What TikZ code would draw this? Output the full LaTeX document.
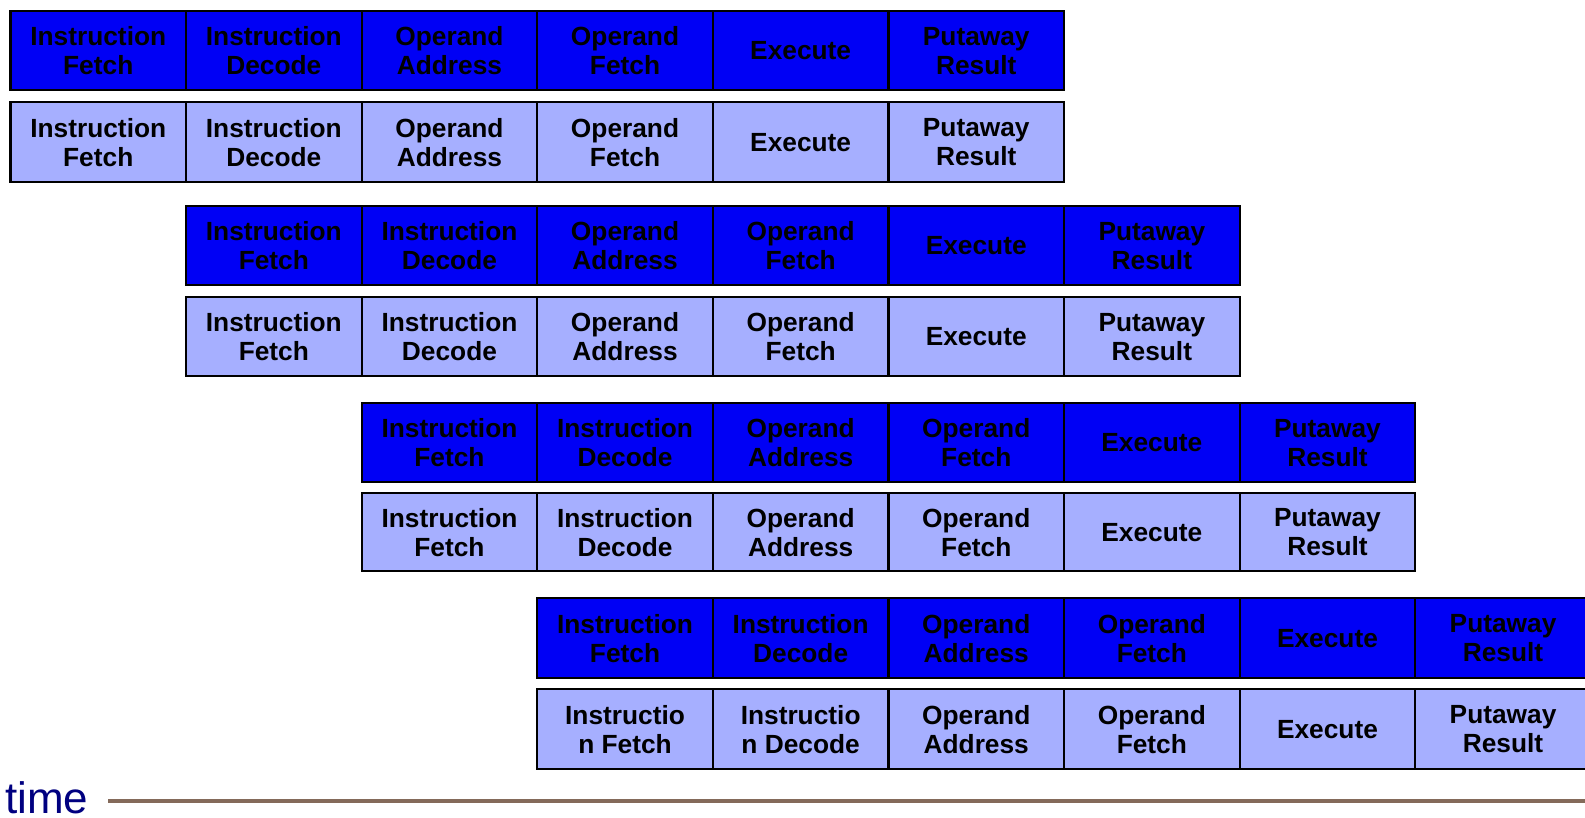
\documentclass[tikz,border=0pt]{standalone}
\usepackage{fontspec}
\setmainfont{Liberation Sans}
\definecolor{darkcell}{RGB}{0,0,245}
\definecolor{lightcell}{RGB}{166,175,255}
\definecolor{timenavy}{RGB}{0,0,128}
\definecolor{timeline}{RGB}{132,106,90}
\begin{document}
\begin{tikzpicture}[x=1pt,y=-1pt,
  cell/.style={draw=black, line width=2.3pt, minimum width=175.6pt,
    inner sep=0pt, align=center, anchor=north west, text=black,
    font=\fontsize{26.3}{29}\selectfont\bfseries}]
\useasboundingbox (0,0) rectangle (1585,817);
\clip (0,0) rectangle (1585,817);
\foreach \r/\x/\y/\h/\s in {1/9.3/10/79/darkcell, 2/9.3/101/80/lightcell, 3/184.9/205/79/darkcell, 4/184.9/296/79/lightcell,
  5/360.5/402/79/darkcell, 6/360.5/492/78/lightcell, 7/536.1/597/80/darkcell}{
  \foreach \lab [count=\c] in {{Instruction\\Fetch},{Instruction\\Decode},{Operand\\Address},{Operand\\Fetch},{Execute},{Putaway\\Result}}{
    \node[cell, fill=\s, minimum height=\h pt] (r\r c\c) at ({\x+(\c-1)*175.6},\y) {\lab};
  }
}
\foreach \lab [count=\c] in {{Instructio\\n Fetch},{Instructio\\n Decode},{Operand\\Address},{Operand\\Fetch},{Execute},{Putaway\\Result}}{
  \node[cell, fill=lightcell, minimum height=80pt] (r8c\c) at ({536.1+(\c-1)*175.6},688) {\lab};
}
\node[anchor=base west, inner sep=0pt, text=timenavy, font=\fontsize{44}{48}\selectfont] (time) at (5,813) {time};
\coordinate (tl) at (108,801);
\coordinate (tr) at (1590,801);
\draw[timeline, line width=4.5pt] (tl) -- (tr);
\end{tikzpicture}
\end{document}
